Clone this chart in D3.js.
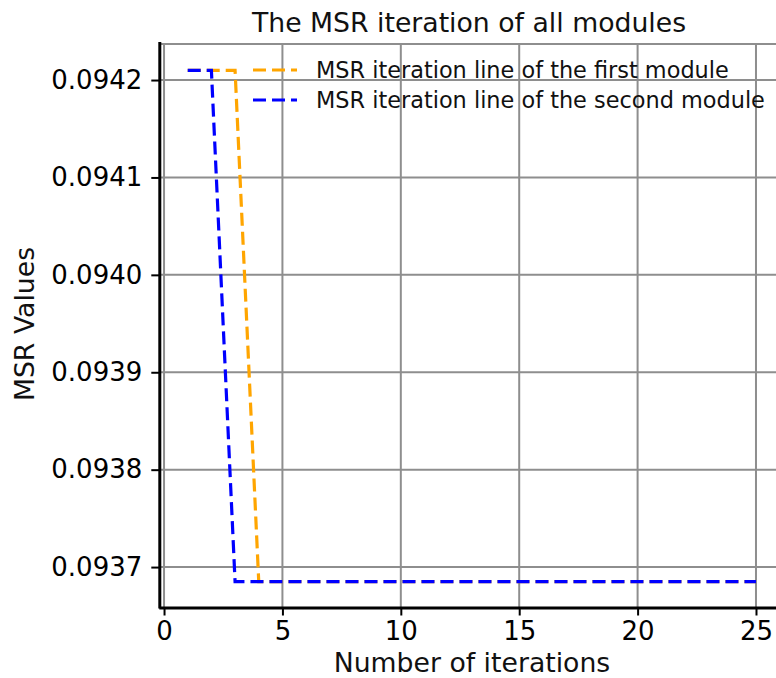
<!DOCTYPE html>
<html>
<head>
<meta charset="utf-8">
<script src="https://cdn.jsdelivr.net/npm/d3@7/dist/d3.min.js"></script>
<style>
  html, body { margin: 0; padding: 0; background: #fff; }
  svg { display: block; font-family: "DejaVu Sans", sans-serif; }
</style>
</head>
<body>
<svg id="chart" width="776" height="678"></svg>
<script>
// ---- data ----
const iterations = [1,2,3,4,5,6,7,8,9,10,11,12,13,14,15,16,17,18,19,20,21,22,23,24,25];
const msrFirst = [0.09421,0.09421,0.09421,0.093685,0.093685,0.093685,0.093685,0.093685,0.093685,0.093685,0.093685,0.093685,0.093685,0.093685,0.093685,0.093685,0.093685,0.093685,0.093685,0.093685,0.093685,0.093685,0.093685,0.093685,0.093685];
const msrSecond = [0.09421,0.09421,0.093685,0.093685,0.093685,0.093685,0.093685,0.093685,0.093685,0.093685,0.093685,0.093685,0.093685,0.093685,0.093685,0.093685,0.093685,0.093685,0.093685,0.093685,0.093685,0.093685,0.093685,0.093685,0.093685];
const xTicks = [0,5,10,15,20,25];
const yTicks = [0.0937,0.0938,0.0939,0.0940,0.0941,0.0942];
const seriesNames = ["MSR iteration line of the first module","MSR iteration line of the second module"];
const seriesColors = ["orange","blue"];
const titleText = "The MSR iteration of all modules";
const xLabel = "Number of iterations";
const yLabel = "MSR Values";

// ---- layout ----
const svg = d3.select("#chart");
const pLeft = 159.3, pRight = 784.4, pTop = 44, pBottom = 607.5;
const x = d3.scaleLinear().domain([-0.2, 26.2]).range([pLeft, pRight]);
const y = d3.scaleLinear().domain([0.0936585, 0.0942370]).range([pBottom, pTop]);
const gridColor = "#8e8e8e";

// grid
const grid = svg.append("g");
grid.selectAll("line.vx").data(xTicks).enter().append("line")
  .attr("x1", d => x(d)).attr("x2", d => x(d))
  .attr("y1", pTop).attr("y2", pBottom)
  .attr("stroke", gridColor).attr("stroke-width", 2);
grid.selectAll("line.hy").data(yTicks).enter().append("line")
  .attr("x1", pLeft).attr("x2", pRight)
  .attr("y1", d => y(d)).attr("y2", d => y(d))
  .attr("stroke", gridColor).attr("stroke-width", 2);
// frame (top/right)
grid.append("line").attr("x1", pLeft).attr("x2", pRight).attr("y1", pTop).attr("y2", pTop)
  .attr("stroke", gridColor).attr("stroke-width", 2);
grid.append("line").attr("x1", pRight).attr("x2", pRight).attr("y1", pTop).attr("y2", pBottom)
  .attr("stroke", gridColor).attr("stroke-width", 2);

// lines
const series = [msrFirst, msrSecond];
const lineGen = d3.line().x((d, i) => x(iterations[i])).y(d => y(d));
svg.append("g").selectAll("path").data(series).enter().append("path")
  .attr("d", d => lineGen(d))
  .attr("fill", "none")
  .attr("stroke", (d, i) => seriesColors[i])
  .attr("stroke-width", 3.2)
  .attr("stroke-dasharray", "13,6");

// axes
const xAxis = d3.axisBottom(x).tickValues(xTicks).tickSize(8).tickPadding(6).tickFormat(d3.format("d"));
const yAxis = d3.axisLeft(y).tickValues(yTicks).tickSize(8).tickPadding(9).tickFormat(d3.format(".4f"));
const gx = svg.append("g").attr("transform", `translate(0,${pBottom})`).call(xAxis);
const gy = svg.append("g").attr("transform", `translate(${pLeft},0)`).call(yAxis);
[gx, gy].forEach(g => {
  g.selectAll(".domain").attr("stroke", "#000").attr("stroke-width", 3);
  g.selectAll(".tick line").attr("stroke", "#000").attr("stroke-width", 2);
  g.selectAll(".tick text").attr("fill", "#000").style("font-size", "26px").style("font-family", "DejaVu Sans, sans-serif");
});
gx.select(".domain").attr("d", `M${pLeft},0.5H${pRight}`);
gy.select(".domain").attr("d", `M0.5,${pTop - 2}V${pBottom + 1}`);

// legend
const lg = svg.append("g");
seriesNames.forEach((name, i) => {
  const ly = 70 + i * 30;
  lg.append("line").attr("x1", 253).attr("x2", 297).attr("y1", ly).attr("y2", ly)
    .attr("stroke", seriesColors[i]).attr("stroke-width", 3.2).attr("stroke-dasharray", "13,6");
  lg.append("text").attr("x", 316).attr("y", ly + 8).text(name)
    .style("font-size", "22.4px").attr("fill", "#111");
});

// title and labels
svg.append("text").attr("x", 469).attr("y", 32).attr("text-anchor", "middle")
  .style("font-size", "26.7px").attr("fill", "#111").text(titleText);
svg.append("text").attr("x", 472).attr("y", 672).attr("text-anchor", "middle")
  .style("font-size", "26.7px").attr("fill", "#111").text(xLabel);
svg.append("text").attr("transform", "translate(34,324) rotate(-90)").attr("text-anchor", "middle")
  .style("font-size", "26.7px").attr("fill", "#111").text(yLabel);
</script>
</body>
</html>
